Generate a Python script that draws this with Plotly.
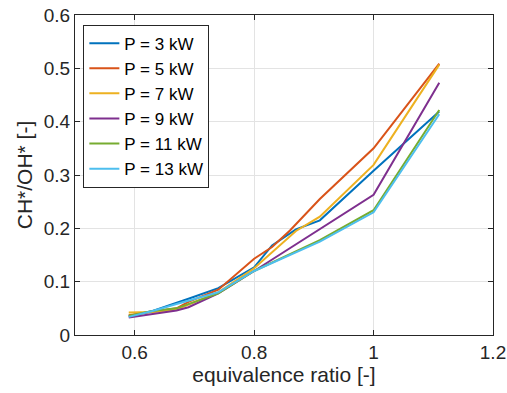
import plotly.graph_objects as go

labels = ["P = 3 kW", "P = 5 kW", "P = 7 kW", "P = 9 kW", "P = 11 kW", "P = 13 kW"]
colors = ["#0072BD", "#D95319", "#EDB120", "#7E2F8E", "#77AC30", "#4DBEEE"]

x_3 = [0.59, 0.63, 0.69, 0.74, 0.80, 0.83, 0.87, 0.91, 1.00, 1.11]
y_3 = [0.035, 0.045, 0.068, 0.088, 0.127, 0.168, 0.198, 0.215, 0.308, 0.419]

x_5 = [0.59, 0.63, 0.67, 0.69, 0.74, 0.80, 0.83, 0.86, 0.91, 1.00, 1.11]
y_5 = [0.037, 0.043, 0.050, 0.062, 0.085, 0.143, 0.165, 0.196, 0.255, 0.350, 0.509]

x_7 = [0.59, 0.63, 0.67, 0.74, 0.80, 0.87, 0.91, 1.00, 1.11]
y_7 = [0.042, 0.043, 0.048, 0.080, 0.125, 0.195, 0.222, 0.319, 0.507]

x_9 = [0.59, 0.63, 0.67, 0.69, 0.74, 0.80, 0.87, 0.91, 1.00, 1.11]
y_9 = [0.033, 0.040, 0.046, 0.052, 0.078, 0.120, 0.170, 0.200, 0.263, 0.473]

x_11 = [0.59, 0.63, 0.67, 0.74, 0.80, 0.91, 1.00, 1.11]
y_11 = [0.036, 0.045, 0.050, 0.078, 0.120, 0.178, 0.234, 0.422]

x_13 = [0.59, 0.63, 0.67, 0.74, 0.80, 0.91, 1.00, 1.11]
y_13 = [0.034, 0.045, 0.058, 0.080, 0.120, 0.175, 0.230, 0.414]

xs = [x_3, x_5, x_7, x_9, x_11, x_13]
ys = [y_3, y_5, y_7, y_9, y_11, y_13]

x_ticks = [0.6, 0.8, 1.0, 1.2]
x_ticktext = ["0.6", "0.8", "1", "1.2"]
y_ticks = [0, 0.1, 0.2, 0.3, 0.4, 0.5, 0.6]
y_ticktext = ["0", "0.1", "0.2", "0.3", "0.4", "0.5", "0.6"]

font_family = "Liberation Sans, Arial, sans-serif"
axcol = "#262626"

fig = go.Figure()
for x, y, lab, c in zip(xs, ys, labels, colors):
    fig.add_trace(go.Scatter(x=x, y=y, mode="lines", name=lab,
                             line=dict(color=c, width=2)))

axis_common = dict(
    showline=True, linecolor=axcol, linewidth=1, mirror="ticks",
    ticks="inside", ticklen=5, tickcolor=axcol, tickwidth=1,
    showgrid=True, gridcolor="#e3e3e3", gridwidth=1,
    zeroline=False, automargin=False,
    tickfont=dict(size=19, color=axcol, family=font_family),
)

fig.update_layout(
    width=507, height=393,
    margin=dict(l=75, r=14, t=15, b=58),
    paper_bgcolor="white", plot_bgcolor="white",
    font=dict(family=font_family, color=axcol),
    xaxis=dict(range=[0.5, 1.2], tickvals=x_ticks, ticktext=x_ticktext,
               title=dict(text="equivalence ratio [-]", font=dict(size=21, color=axcol), standoff=2),
               **axis_common),
    yaxis=dict(range=[0, 0.6], tickvals=y_ticks, ticktext=y_ticktext,
               title=dict(text="CH*/OH* [-]", font=dict(size=21, color=axcol), standoff=5),
               **axis_common),
    legend=dict(x=0.02, y=0.97, xanchor="left", yanchor="top",
                bgcolor="white", bordercolor=axcol, borderwidth=1,
                font=dict(size=17, color="black", family=font_family),
                tracegroupgap=0, itemwidth=30),
    showlegend=True,
)

fig.write_html("out.html", config={"displayModeBar": False},
               post_script="document.body.style.margin='0';document.body.style.overflow='hidden';")
